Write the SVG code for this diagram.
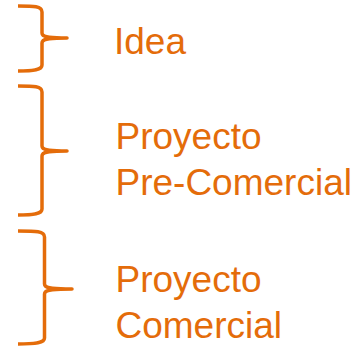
<svg xmlns="http://www.w3.org/2000/svg" width="357" height="348" viewBox="0 0 357 348">
<style>
.brace{fill:none;stroke:#E46C0A;stroke-width:3.5;stroke-linecap:butt;stroke-linejoin:round}
.lbl{font-family:"Liberation Sans",Arial,sans-serif;font-size:37px;fill:#E46C0A}
</style>
<rect width="357" height="348" fill="#ffffff"/>
<g id="connectors">
<path class="brace" d="M18,6 C34,6 42,6 42,12 L42,33 C42,37 48,38 67,38 C48,38 42,39 42,43 L42,65 C42,70 34,71 18,71"/>
<path class="brace" d="M18,86 C34,86 42,86 42,92 L42,146 C42,150 48,151 67,151 C48,151 42,152 42,156 L42,209 C42,214 34,215 18,215"/>
<path class="brace" d="M18,231 C36,231 44.5,231 44.5,237 L44.5,284 C44.5,288 51,289 72,289 C51,289 44.5,290 44.5,294 L44.5,338 C44.5,343 36,344 18,344"/>
</g>
<g id="idea"><text class="lbl" x="114" y="53.5">Idea</text></g>
<g id="pre-comercial"><text class="lbl" x="115.5" y="149">Proyecto</text><text class="lbl" x="115.5" y="194.5">Pre-Comercial</text></g>
<g id="comercial"><text class="lbl" x="115.5" y="292">Proyecto</text><text class="lbl" x="115.5" y="338">Comercial</text></g>
</svg>
